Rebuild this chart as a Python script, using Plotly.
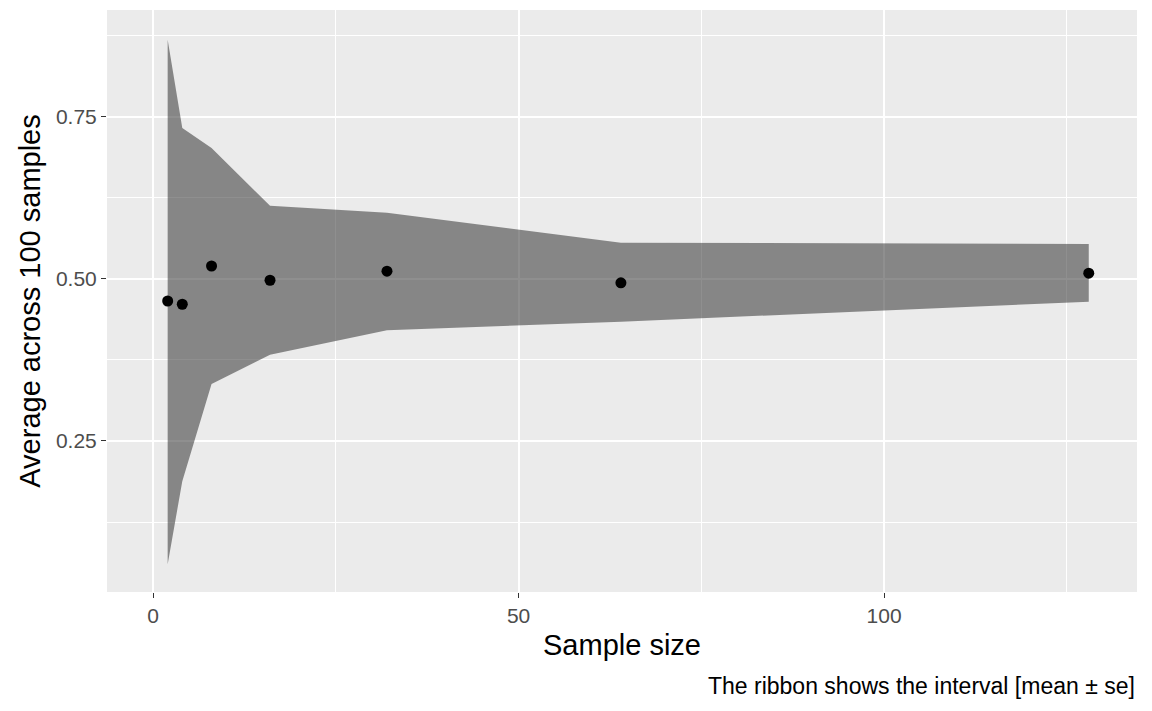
import plotly.graph_objects as go

# sample sizes and summary values
sample_size = [2, 4, 8, 16, 32, 64, 128]
mean_value = [0.466, 0.461, 0.520, 0.498, 0.512, 0.494, 0.509]
upper = [0.869, 0.733, 0.702, 0.613, 0.602, 0.556, 0.554]
lower = [0.060, 0.188, 0.338, 0.383, 0.421, 0.434, 0.465]

caption = "The ribbon shows the interval [mean \u00b1 se]"
font_family = "Liberation Sans, Arial, Helvetica"

fig = go.Figure()

# ribbon: lower edge first, then fill up to upper edge
fig.add_trace(go.Scatter(x=sample_size, y=lower, mode="lines",
                         line=dict(width=0), showlegend=False, hoverinfo="skip"))
fig.add_trace(go.Scatter(x=sample_size, y=upper, mode="lines",
                         line=dict(width=0), fill="tonexty",
                         fillcolor="rgba(51,51,51,0.55)",
                         showlegend=False, hoverinfo="skip"))

fig.add_trace(go.Scatter(x=sample_size, y=mean_value, mode="markers",
                         marker=dict(color="black", size=11),
                         showlegend=False))

axis_common = dict(
    showgrid=True, gridcolor="white", gridwidth=2,
    zeroline=False, showline=False,
    ticks="outside", ticklen=5, tickwidth=1.3, tickcolor="#333333",
    tickfont=dict(family=font_family, size=21, color="#4D4D4D"),
)

fig.update_xaxes(
    range=[-6.3, 134.6], tickmode="linear", tick0=0, dtick=50,
    minor=dict(showgrid=True, gridcolor="white", gridwidth=1, dtick=25, tick0=0),
    title=dict(text="Sample size", font=dict(family=font_family, size=29, color="black"),
               standoff=8),
    **axis_common,
)
fig.update_yaxes(
    range=[0.017, 0.915], tickmode="linear", tick0=0, dtick=0.25, tickformat=".2f",
    minor=dict(showgrid=True, gridcolor="white", gridwidth=1, dtick=0.125, tick0=0),
    title=dict(text="Average across 100 samples", font=dict(family=font_family, size=29, color="black"),
               standoff=6),
    **axis_common,
)

fig.add_annotation(text=caption, xref="paper", yref="paper", x=1, y=-0.135,
                   xanchor="right", yanchor="top", showarrow=False,
                   font=dict(family=font_family, size=23, color="black"))

# page body adds an 8px margin, so the figure is shrunk to fit the window
fig.update_layout(
    width=1144, height=703,
    plot_bgcolor="#EBEBEB", paper_bgcolor="white",
    margin=dict(l=99, r=15, t=2, b=119),
)

fig.write_html("out.html")
